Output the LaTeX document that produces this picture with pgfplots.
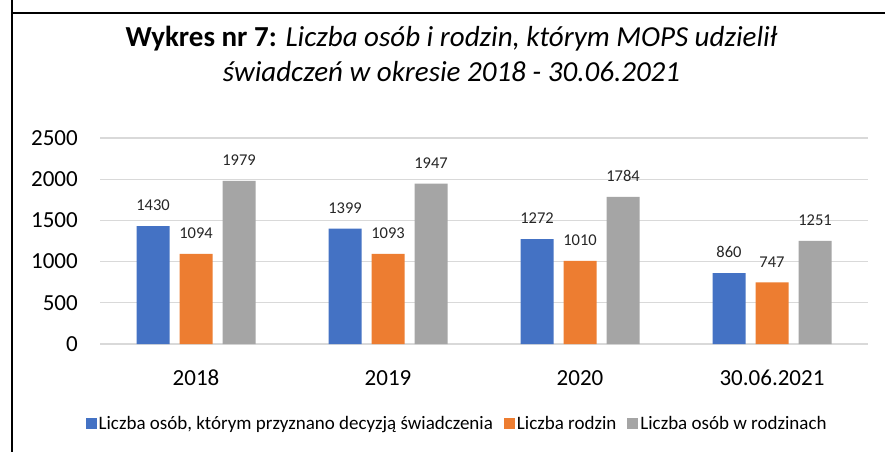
\documentclass[border=0pt]{standalone}
\usepackage{pgfplots}
\pgfplotsset{compat=1.18}
\usepackage{fontspec}
\setmainfont{Carlito}
\definecolor{cblue}{HTML}{4472C4}
\definecolor{corange}{HTML}{ED7D31}
\definecolor{cgray}{HTML}{A5A5A5}
\definecolor{cgrid}{HTML}{D9D9D9}
\definecolor{clabel}{HTML}{262626}
\begin{document}
\begin{tikzpicture}[x=1pt,y=1pt]
\useasboundingbox (0,0) rectangle (885,452);
\fill[white] (0,0) rectangle (885,452);
\draw[line width=2pt] (12,452) -- (12,0);
\draw[line width=2pt] (11,438.5) -- (885,438.5);
\node[anchor=base,inner sep=0pt] at (451.5,405.3) {\fontsize{29}{35}\selectfont\textbf{Wykres nr 7:} \textit{Liczba osób i rodzin, którym MOPS udzielił}};
\node[anchor=base,inner sep=0pt] at (451.5,370.5) {\fontsize{29}{35}\selectfont\textit{świadczeń w okresie 2018 - 30.06.2021}};
\begin{axis}[
  at={(100pt,108pt)}, anchor=south west,
  scale only axis, width=768pt, height=206pt,
  xmin=-0.5, xmax=3.5, ymin=0, ymax=2500,
  enlargelimits=false, clip=false,
  ybar=10pt, bar width=33pt,
  xtick={0,1,2,3}, xticklabels={2018,2019,2020,30.06.2021},
  ytick={0,500,1000,1500,2000,2500},
  major tick length=0pt,
  axis line style={draw=none},
  ymajorgrids, major grid style={color=cgrid, line width=1.3pt},
  /pgf/number format/assume math mode=true,
  /pgf/number format/1000 sep={},
  tick label style={font=\fontsize{23}{27}\selectfont, text=black},
  yticklabel style={inner sep=0pt, anchor=east, xshift=-22pt},
  xticklabel style={inner sep=0pt, anchor=north, yshift=-26pt},
  nodes near coords,
  every node near coord/.append style={font=\fontsize{16.5}{19}\selectfont, text=clabel, inner sep=0pt, anchor=south, yshift=15pt},
  legend style={at={(0.465,-0.388)}, anchor=center, draw=none, fill=none,
    font=\fontsize{19}{22}\selectfont, column sep=0pt,
    /tikz/every even column/.append style={column sep=9pt},
    inner sep=0pt, nodes={inner sep=2pt}},
  legend columns=3,
  legend image code/.code={\fill[#1] (0pt,-5.5pt) rectangle (11pt,5.5pt);},
]
\addplot[fill=cblue, draw=none] coordinates {(0,1430) (1,1399) (2,1272) (3,860)};
\addplot[fill=corange, draw=none] coordinates {(0,1094) (1,1093) (2,1010) (3,747)};
\addplot[fill=cgray, draw=none] coordinates {(0,1979) (1,1947) (2,1784) (3,1251)};
\legend{{Liczba osób, którym przyznano decyzją świadczenia}, {Liczba rodzin}, {Liczba osób w rodzinach}}
\end{axis}
\end{tikzpicture}
\end{document}
